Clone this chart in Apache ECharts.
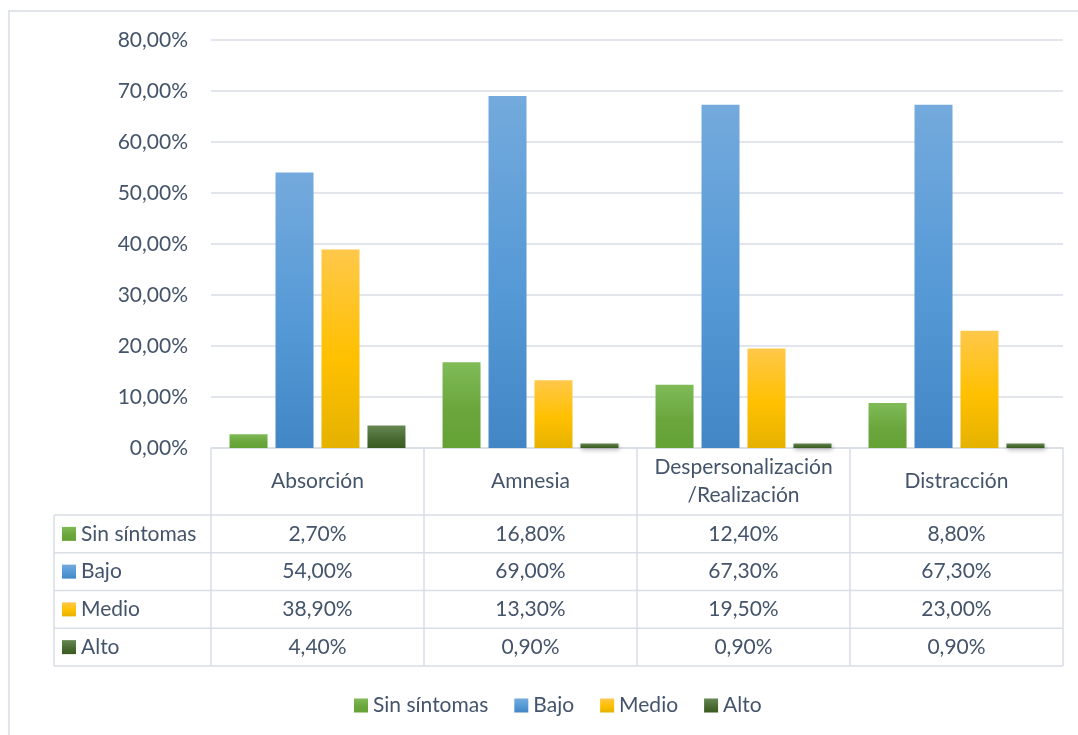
<!DOCTYPE html>
<html><head><meta charset="utf-8">
<script src="https://cdn.jsdelivr.net/npm/echarts@6/dist/echarts.min.js"></script>
<style>html,body{margin:0;padding:0;background:#fff}#c{width:1078px;height:735px}</style>
</head><body><div id="c"></div>
<script>
const categories = ['Absorción', 'Amnesia', 'Despersonalización\n/Realización', 'Distracción'];
const seriesNames = ['Sin síntomas', 'Bajo', 'Medio', 'Alto'];
const sinSintomas = [2.7, 16.8, 12.4, 8.8];
const bajo = [54.0, 69.0, 67.3, 67.3];
const medio = [38.9, 13.3, 19.5, 23.0];
const alto = [4.4, 0.9, 0.9, 0.9];
const yTicks = [0, 10, 20, 30, 40, 50, 60, 70, 80];

const seriesData = [sinSintomas, bajo, medio, alto];
const gradStops = [
  ['#7fbb57', '#6ba63d', '#64a234'],
  ['#74aadd', '#5599d6', '#4386c6'],
  ['#ffc84a', '#ffc000', '#e5b200'],
  ['#668751', '#4a6c34', '#395b20']
];
const txt = '#44546a';
const FONT = 'Lato';
const FS = 21;
const line = '#d9dde5';
function fmt(v){ return v.toFixed(2).replace('.', ',') + '%'; }
function grad(i){
  return new echarts.graphic.LinearGradient(0,0,0,1,[
    {offset:0,color:gradStops[i][0]},{offset:0.55,color:gradStops[i][1]},{offset:1,color:gradStops[i][2]}]);
}

const chart = echarts.init(document.getElementById('c'), null, {renderer:'canvas'});
const gridLeft = 211, gridRight = 15, gridTop = 40, gridBottom = 287;
const option = {
  animation:false,
  textStyle:{fontFamily:FONT, color:txt},
  grid:{left:gridLeft, right:gridRight, top:gridTop, bottom:gridBottom, containLabel:false},
  legend:{
    data:seriesNames, left:349, top:690, icon:'rect', itemWidth:14, itemHeight:14, itemGap:26,
    textStyle:{fontFamily:FONT, fontSize:FS, color:txt}
  },
  xAxis:{
    type:'category', data:categories,
    axisLine:{show:true, lineStyle:{color:line, width:1.5}},
    axisTick:{show:true, interval:0, length:218, lineStyle:{color:line, width:1.5}},
    axisLabel:{interval:0, hideOverlap:false, fontFamily:FONT, fontSize:FS, color:txt, margin:33, verticalAlign:'middle', lineHeight:28}
  },
  yAxis:{
    type:'value', min:yTicks[0], max:yTicks[yTicks.length-1], interval:yTicks[1]-yTicks[0],
    axisLine:{show:false}, axisTick:{show:false},
    splitLine:{lineStyle:{color:line, width:1.5}},
    axisLabel:{formatter:fmt, fontFamily:FONT, fontSize:FS, color:txt, margin:23}
  },
  series: seriesNames.map((n,i)=>({
    name:n, type:'bar', data:seriesData[i], barWidth:38, barGap:'21%',
    itemStyle:{color:grad(i), shadowBlur:4, shadowColor:'rgba(0,0,0,0.28)', shadowOffsetX:1, shadowOffsetY:2}
  }))
};
chart.setOption(option);

// data table below the plot, positioned from the axis scale
const rowTop = 515, rowH = 37.75, tableLeft = 54;
const xRight = 1078 - gridRight;
const g = [];
g.push({type:'rect', shape:{x:9, y:11, width:1100, height:760}, style:{fill:'none', stroke:line, lineWidth:1.5}, silent:true});
for (let r=0; r<=seriesNames.length; r++){
  const y = rowTop + r*rowH;
  g.push({type:'line', shape:{x1:tableLeft, y1:y, x2:xRight, y2:y}, style:{stroke:line, lineWidth:1.5}});
}
g.push({type:'line', shape:{x1:tableLeft, y1:rowTop, x2:tableLeft, y2:rowTop+rowH*seriesNames.length}, style:{stroke:line, lineWidth:1.5}});
seriesNames.forEach((n,r)=>{
  const cy = rowTop + (r+0.5)*rowH;
  g.push({type:'rect', shape:{x:62, y:cy-7, width:14, height:14}, style:{fill:grad(r)}});
  g.push({type:'text', x:81, y:cy, style:{text:n, font:FS+'px '+FONT, fill:txt, textVerticalAlign:'middle', textAlign:'left'}});
  categories.forEach((c,ci)=>{
    const px = chart.convertToPixel({xAxisIndex:0}, ci);
    g.push({type:'text', x:px, y:cy, style:{text:fmt(seriesData[r][ci]), font:FS+'px '+FONT, fill:txt, textVerticalAlign:'middle', textAlign:'center'}});
  });
});
chart.setOption({graphic:g});
</script></body></html>
